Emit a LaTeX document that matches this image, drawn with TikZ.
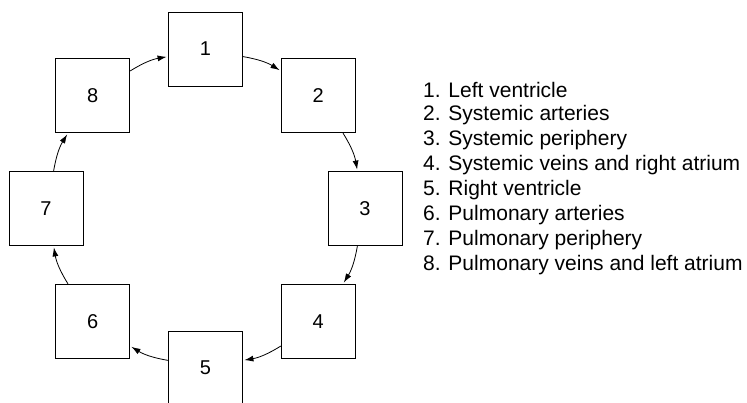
\documentclass[tikz,border=0pt]{standalone}
\usepackage{fontspec}
\setmainfont{Liberation Sans}
\usetikzlibrary{arrows.meta,calc}

\begin{document}
\begin{tikzpicture}[
  x=1pt, y=1pt,
  stage/.style={rectangle, draw=black, line width=0.9pt, minimum size=74pt, inner sep=0pt, font=\fontsize{20}{22}\selectfont},
  legend/.style={anchor=west, inner sep=0pt, font=\fontsize{21}{22}\selectfont},
  flow/.style={-{Latex[length=9pt,width=6pt]}, line width=0.8pt, draw=black, shorten >=1.5pt}
]
\useasboundingbox (0,0) rectangle (747,403);
% ring of compartments
\foreach \i in {1,...,8}
  \node[stage] (s\i) at ($(205.5,194.5)+({90-45*(\i-1)}:159.5)$) {\i};
\foreach \i [evaluate=\i as \j using {int(mod(\i,8)+1)}] in {1,...,8}
  \draw[flow] (s\i) to[bend left=11] (s\j);
% key
\foreach \txt [count=\i] in {Left ventricle, Systemic arteries, Systemic periphery,
    Systemic veins and right atrium, Right ventricle, Pulmonary arteries,
    Pulmonary periphery, Pulmonary veins and left atrium}
  \node[legend] (k\i) at (423,{313-25*(\i-1)}) {\i. \txt};
\end{tikzpicture}
\end{document}
